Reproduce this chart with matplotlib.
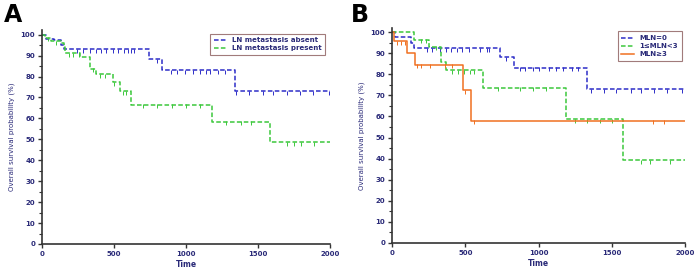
import matplotlib.pyplot as plt
import numpy as np

# Panel A: step times and survival levels (%)
a_absent_t = [0, 25, 80, 130, 150, 740, 835, 1338]
a_absent_s = [100, 98, 97.5, 95, 93, 88.2, 83.1, 73.1]
a_absent_cens = [240, 285, 330, 375, 410, 445, 490, 530, 570, 600, 615, 640, 800,
                 895, 940, 990, 1050, 1095, 1140, 1165, 1225, 1270, 1350, 1440,
                 1535, 1605, 1700, 1790, 1885, 1990]

a_present_t = [0, 20, 60, 130, 150, 160, 265, 330, 375, 490, 540, 618, 1182, 1583]
a_present_s = [100, 98.5, 97, 96, 94, 91.3, 89.3, 83.8, 81.1, 77.4, 73.1, 66.6, 58.5, 48.5]
a_present_cens = [45, 95, 185, 215, 260, 355, 400, 440, 500, 560, 580, 700, 800,
                  900, 1000, 1100, 1280, 1380, 1450, 1700, 1750, 1800, 1890]

# Panel B
b_mln0_t = [0, 20, 130, 150, 740, 831, 1333]
b_mln0_s = [100, 97.6, 95, 92.6, 88.2, 83.2, 73]
b_mln0_cens = [240, 275, 330, 365, 400, 440, 480, 525, 600, 650, 660, 780, 870,
               910, 960, 1000, 1070, 1120, 1170, 1230, 1270, 1360, 1450, 1530,
               1630, 1700, 1790, 1880, 1980]

b_mln13_t = [0, 148, 250, 335, 370, 620, 1185, 1579]
b_mln13_s = [100, 96.5, 93.1, 85.8, 81.9, 73.7, 58.8, 39.2]
b_mln13_cens = [200, 230, 300, 410, 450, 490, 530, 560, 720, 870, 960, 1050,
                1250, 1330, 1420, 1500, 1700, 1760, 1900]

b_mln3_t = [0, 10, 103, 153, 485, 540]
b_mln3_s = [100, 95.8, 90.3, 84.6, 72.5, 58]
b_mln3_cens = [30, 60, 90, 170, 200, 260, 360, 410, 500, 560, 1780, 1860]

navy = '#2a2a78'
blue = '#2e2ec8'
green = '#3cc83c'
orange = '#f07020'


def km(ax, t, s, cens, color, ls, label):
    tt = list(t) + [2000]
    ss = list(s) + [s[-1]]
    ax.step(tt, ss, where='post', color=color, ls=ls, lw=1.1, label=label)
    idx = np.searchsorted(t, cens, side='right') - 1
    ax.plot(cens, np.array(s)[idx] - 0.8, ls='none', marker='|', ms=3,
            mew=0.7, color=color)


def style(ax):
    ax.set_xlim(0, 2000)
    ax.set_ylim(0, 102)
    ax.set_xticks([0, 500, 1000, 1500, 2000])
    ax.set_yticks(range(0, 101, 10))
    ax.set_yticks(range(5, 101, 10), minor=True)
    for sp in ['top', 'right']:
        ax.spines[sp].set_visible(False)
    for sp in ['left', 'bottom']:
        ax.spines[sp].set_color('#333333')
        ax.spines[sp].set_linewidth(1.2)
    ax.tick_params(which='major', length=3, width=1, color='#333333',
                   labelsize=5, labelcolor=navy, pad=2)
    ax.tick_params(which='minor', length=2, width=0.8, color='#333333')
    for lb in ax.get_xticklabels() + ax.get_yticklabels():
        lb.set_fontweight('bold')
    ax.set_xlabel('Time', fontsize=5.5, fontweight='bold', color=navy, labelpad=2)
    ax.set_ylabel('Overall survival probability (%)', fontsize=5, color=navy,
                  labelpad=4)


def legend(ax, anchor):
    leg = ax.legend(loc='upper right', bbox_to_anchor=anchor,
                    frameon=True, fancybox=False, handlelength=1.8,
                    borderpad=0.5, labelspacing=0.3,
                    prop={'weight': 'bold', 'size': 5})
    leg.get_frame().set_edgecolor('#8a5a5a')
    leg.get_frame().set_linewidth(0.8)
    for tx in leg.get_texts():
        tx.set_color(navy)


fig = plt.figure(figsize=(6.94, 2.72), dpi=100)

axA = fig.add_axes([0.0605, 0.103, 0.415, 0.785])
km(axA, a_absent_t, a_absent_s, a_absent_cens, blue, (0, (3, 1.5)), 'LN metastasis absent')
km(axA, a_present_t, a_present_s, a_present_cens, green, (0, (3, 1.5)), 'LN metastasis present')
style(axA)
legend(axA, (0.995, 1.0))

axB = fig.add_axes([0.565, 0.107, 0.422, 0.79])
km(axB, b_mln0_t, b_mln0_s, b_mln0_cens, blue, (0, (3, 1.5)), 'MLN=0')
km(axB, b_mln13_t, b_mln13_s, b_mln13_cens, green, (0, (3, 1.5)), '1≤MLN<3')
km(axB, b_mln3_t, b_mln3_s, b_mln3_cens, orange, '-', 'MLN≥3')
style(axB)
legend(axB, (1.0, 1.0))

fig.text(0.005, 0.99, 'A', fontsize=17, fontweight='bold', va='top', ha='left')
fig.text(0.505, 0.99, 'B', fontsize=17, fontweight='bold', va='top', ha='left')

fig.savefig('out.png', dpi=100)
